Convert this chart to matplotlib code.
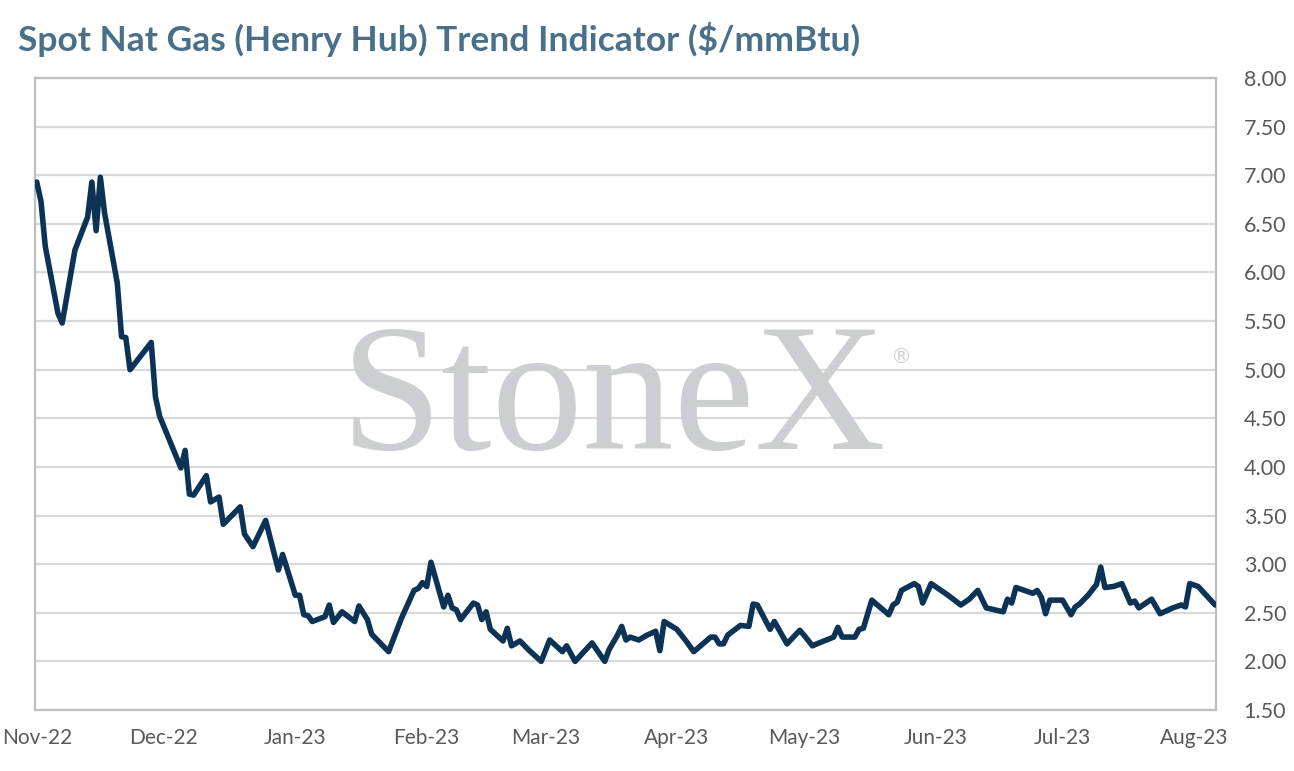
import matplotlib
matplotlib.use("Agg")
import matplotlib.pyplot as plt
import matplotlib.dates as mdates
import pandas as pd
import numpy as np

# ---- data: days since 2022-11-01 and spot price ($/mmBtu) ----
start_date = "2022-11-01"
day_offsets = [
    0, 1, 2, 5, 6, 9, 12, 13, 14, 15, 16, 19, 20, 21, 22, 27, 28, 29, 34, 35,
    36, 37, 40, 41, 43, 44, 48, 49, 51, 54, 57, 58, 61, 62, 63, 64, 65, 68, 69, 70,
    72, 75, 76, 78, 79, 83, 86, 89, 90, 91, 92, 93, 96, 97, 98, 99, 100, 103, 104, 105,
    106, 107, 110, 111, 112, 114, 116, 119, 121, 124, 125, 127, 131, 134, 135, 137, 138, 139, 140, 142,
    144, 146, 147, 148, 151, 153, 155, 159, 160, 161, 162, 163, 166, 168, 169, 170, 173, 174, 177, 180,
    181, 183, 184, 188, 189, 190, 193, 194, 195, 197, 201, 202, 203, 204, 207, 208, 209, 211, 215, 218,
    220, 222, 224, 226, 228, 229, 230, 231, 233, 235, 236, 237, 238, 239, 242, 244, 245, 246, 248, 250,
    251, 252, 254, 256, 258, 259, 260, 263, 265, 268, 270, 271, 272, 274, 278,
]
prices = [
    6.93, 6.73, 6.27, 5.58, 5.48, 6.23, 6.57, 6.93, 6.43, 6.98, 6.61, 5.89, 5.34, 5.33, 5.00, 5.28, 4.72, 4.52, 3.99, 4.17,
    3.72, 3.71, 3.91, 3.64, 3.69, 3.41, 3.59, 3.31, 3.18, 3.45, 2.94, 3.10, 2.68, 2.68, 2.48, 2.47, 2.41, 2.46, 2.58, 2.40,
    2.51, 2.41, 2.57, 2.43, 2.28, 2.10, 2.44, 2.73, 2.75, 2.81, 2.77, 3.02, 2.56, 2.68, 2.55, 2.53, 2.43, 2.60, 2.58, 2.43,
    2.51, 2.33, 2.21, 2.34, 2.16, 2.21, 2.12, 2.00, 2.22, 2.10, 2.16, 2.00, 2.19, 2.00, 2.12, 2.27, 2.36, 2.22, 2.25, 2.22,
    2.27, 2.31, 2.11, 2.41, 2.33, 2.22, 2.10, 2.25, 2.25, 2.18, 2.18, 2.27, 2.37, 2.36, 2.59, 2.58, 2.33, 2.41, 2.18, 2.32,
    2.27, 2.16, 2.18, 2.25, 2.35, 2.25, 2.25, 2.33, 2.34, 2.63, 2.48, 2.58, 2.61, 2.73, 2.80, 2.77, 2.60, 2.80, 2.68, 2.58,
    2.64, 2.73, 2.55, 2.53, 2.51, 2.64, 2.60, 2.76, 2.73, 2.70, 2.73, 2.66, 2.49, 2.63, 2.63, 2.48, 2.56, 2.59, 2.68, 2.79,
    2.97, 2.76, 2.77, 2.80, 2.60, 2.62, 2.55, 2.64, 2.49, 2.55, 2.58, 2.56, 2.80, 2.77, 2.58,
]
y_ticks = [1.50, 2.00, 2.50, 3.00, 3.50, 4.00, 4.50, 5.00, 5.50, 6.00, 6.50, 7.00, 7.50, 8.00]
title = "Spot Nat Gas (Henry Hub) Trend Indicator ($/mmBtu)"

dates = pd.Timestamp(start_date) + pd.to_timedelta(day_offsets, unit="D")

plt.rcParams["font.family"] = ["Lato", "DejaVu Sans"]

W, H = 1294, 771
fig = plt.figure(figsize=(W / 100, H / 100), dpi=100)
ax = fig.add_axes([35 / W, 1 - 710 / H, (1216 - 35) / W, (710 - 78) / H])

grid_c = "#d9d9d9"
spine_c = "#bfbfbf"
text_c = "#595959"

ax.set_axisbelow(True)
ax.grid(axis="y", color=grid_c, linewidth=1.6, zorder=0.5)
ax.grid(axis="x", visible=False)

ax.plot(dates, prices, color="#0c3355", linewidth=4.0,
        solid_joinstyle="round", solid_capstyle="round", zorder=3)

x0 = pd.Timestamp(start_date) - pd.Timedelta(hours=10)
x1 = pd.Timestamp(start_date) + pd.Timedelta(days=278.2)
ax.set_xlim(x0, x1)
ax.set_ylim(y_ticks[0], y_ticks[-1])
ax.set_yticks(y_ticks)
ax.yaxis.set_major_formatter(matplotlib.ticker.FormatStrFormatter("%.2f"))
ax.yaxis.tick_right()
ax.xaxis.set_major_locator(mdates.MonthLocator())
ax.xaxis.set_major_formatter(mdates.DateFormatter("%b-%y"))
ax.tick_params(axis="y", length=0, pad=20, labelsize=15.5, labelcolor=text_c)
ax.tick_params(axis="x", length=0, pad=13, labelsize=15, labelcolor=text_c)

for s in ax.spines.values():
    s.set_color(spine_c)
    s.set_linewidth(1.6)

# watermark
fig.text(614 / W, 1 - 449 / H, "StoneX", family=["Liberation Serif", "DejaVu Serif"],
         fontsize=131, color="#cdced2", ha="center", va="baseline", zorder=0.2)
fig.text(901 / W, 1 - 363 / H, "\u00ae", family=["DejaVu Sans"],
         fontsize=15, color="#cdced2", ha="center", va="baseline", zorder=0.2)

fig.text(18 / W, 1 - 51 / H, title, fontsize=25.5, fontweight="bold",
         color="#4a7089", ha="left", va="baseline")

fig.savefig("out.png", dpi=100)
